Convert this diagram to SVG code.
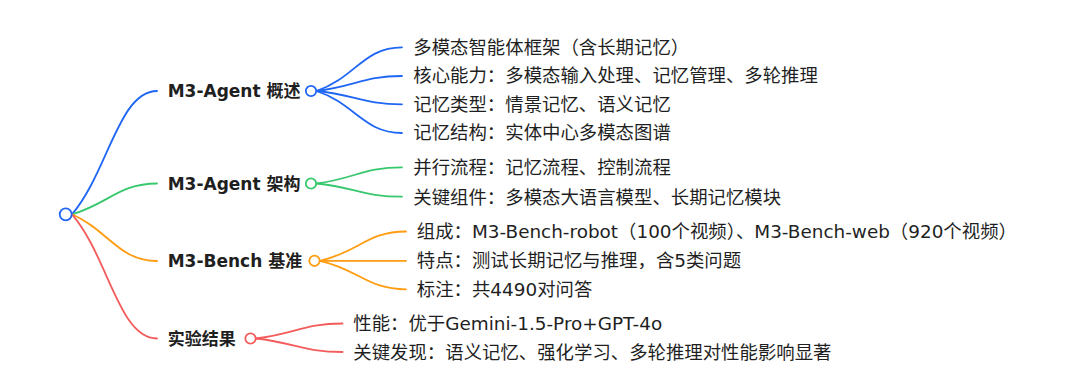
<svg xmlns="http://www.w3.org/2000/svg" width="1080" height="391" viewBox="0 0 1080 391">
<style>
  .bg{fill:#ffffff}
  text{font-family:"DejaVu Sans","Noto Sans CJK SC",sans-serif;fill:#1f1f1f}
  .l1{font-size:17px;font-weight:bold}
  .l2{font-size:18.4px}
  .lk{fill:none;stroke-width:1.8;stroke-linecap:round}
  .dot{fill:#ffffff;stroke-width:1.8}
  .blue{stroke:#1f66f4}
  .green{stroke:#37c76c}
  .orange{stroke:#ff9c10}
  .red{stroke:#f45b5b}
</style>
<rect class="bg" x="0" y="0" width="1080" height="391"/>
<g id="connectors">
  <path class="lk blue" d="M72,214.3 C108,172 118.75,91 157,91"/>
  <path class="lk green" d="M72,214.3 C108,204 118.75,183.5 157,183.5"/>
  <path class="lk orange" d="M72,214.3 C108,230 118.75,261 157,261"/>
  <path class="lk red" d="M72,214.3 C108,256 118.75,338.5 157,338.5"/>

  <path class="lk blue" d="M316.5,91 C355,77.9 363.5,47.3 402,47.3"/>
  <path class="lk blue" d="M316.5,91 C355,86.5 363.5,76 402,76"/>
  <path class="lk blue" d="M316.5,91 C355,95 363.5,104.3 402,104.3"/>
  <path class="lk blue" d="M316.5,91 C355,103.6 363.5,133 402,133"/>

  <path class="lk green" d="M316.5,183.5 C355,178.6 363.5,167.3 402,167.3"/>
  <path class="lk green" d="M316.5,183.5 C355,187.5 363.5,196.7 402,196.7"/>

  <path class="lk orange" d="M320,260.8 C358.7,252 367.3,231.5 406,231.5"/>
  <path class="lk orange" d="M320,260.8 L406,260.8"/>
  <path class="lk orange" d="M320,260.8 C358.7,269.4 367.3,289.3 406,289.3"/>

  <path class="lk red" d="M256,338.5 C294.9,334 303.6,323.5 342.5,323.5"/>
  <path class="lk red" d="M256,338.5 C294.9,342.6 303.6,352 342.5,352"/>
</g>
<g id="root">
  <circle class="dot blue" cx="65.7" cy="214.3" r="6"/>
</g>
<g id="n-overview">
  <text class="l1" x="167.7" y="97">M3-Agent 概述</text>
  <circle class="dot blue" cx="311" cy="91" r="5.2"/>
</g>
<g id="n-overview-1"><text class="l2" x="413.3" y="53.8">多模态智能体框架（含长期记忆）</text></g>
<g id="n-overview-2"><text class="l2" x="413.3" y="82.4">核心能力：多模态输入处理、记忆管理、多轮推理</text></g>
<g id="n-overview-3"><text class="l2" x="413.3" y="110.8">记忆类型：情景记忆、语义记忆</text></g>
<g id="n-overview-4"><text class="l2" x="413.3" y="139.2">记忆结构：实体中心多模态图谱</text></g>

<g id="n-arch">
  <text class="l1" x="167.7" y="189.5">M3-Agent 架构</text>
  <circle class="dot green" cx="311" cy="183.5" r="5.2"/>
</g>
<g id="n-arch-1"><text class="l2" x="413.3" y="174.4">并行流程：记忆流程、控制流程</text></g>
<g id="n-arch-2"><text class="l2" x="413.3" y="203.6">关键组件：多模态大语言模型、长期记忆模块</text></g>

<g id="n-bench">
  <text class="l1" x="167.7" y="267">M3-Bench 基准</text>
  <circle class="dot orange" cx="314.5" cy="260.8" r="5.2"/>
</g>
<g id="n-bench-1"><text class="l2" x="416.8" y="238.4">组成：M3-Bench-robot（100个视频）、M3-Bench-web（920个视频）</text></g>
<g id="n-bench-2"><text class="l2" x="416.8" y="267.4">特点：测试长期记忆与推理，含5类问题</text></g>
<g id="n-bench-3"><text class="l2" x="416.8" y="296.1">标注：共4490对问答</text></g>

<g id="n-result">
  <text class="l1" x="167.7" y="344.5">实验结果</text>
  <circle class="dot red" cx="250.5" cy="338.5" r="5.2"/>
</g>
<g id="n-result-1"><text class="l2" x="353.3" y="330.4">性能：优于Gemini-1.5-Pro+GPT-4o</text></g>
<g id="n-result-2"><text class="l2" x="353.3" y="358.7">关键发现：语义记忆、强化学习、多轮推理对性能影响显著</text></g>
</svg>
